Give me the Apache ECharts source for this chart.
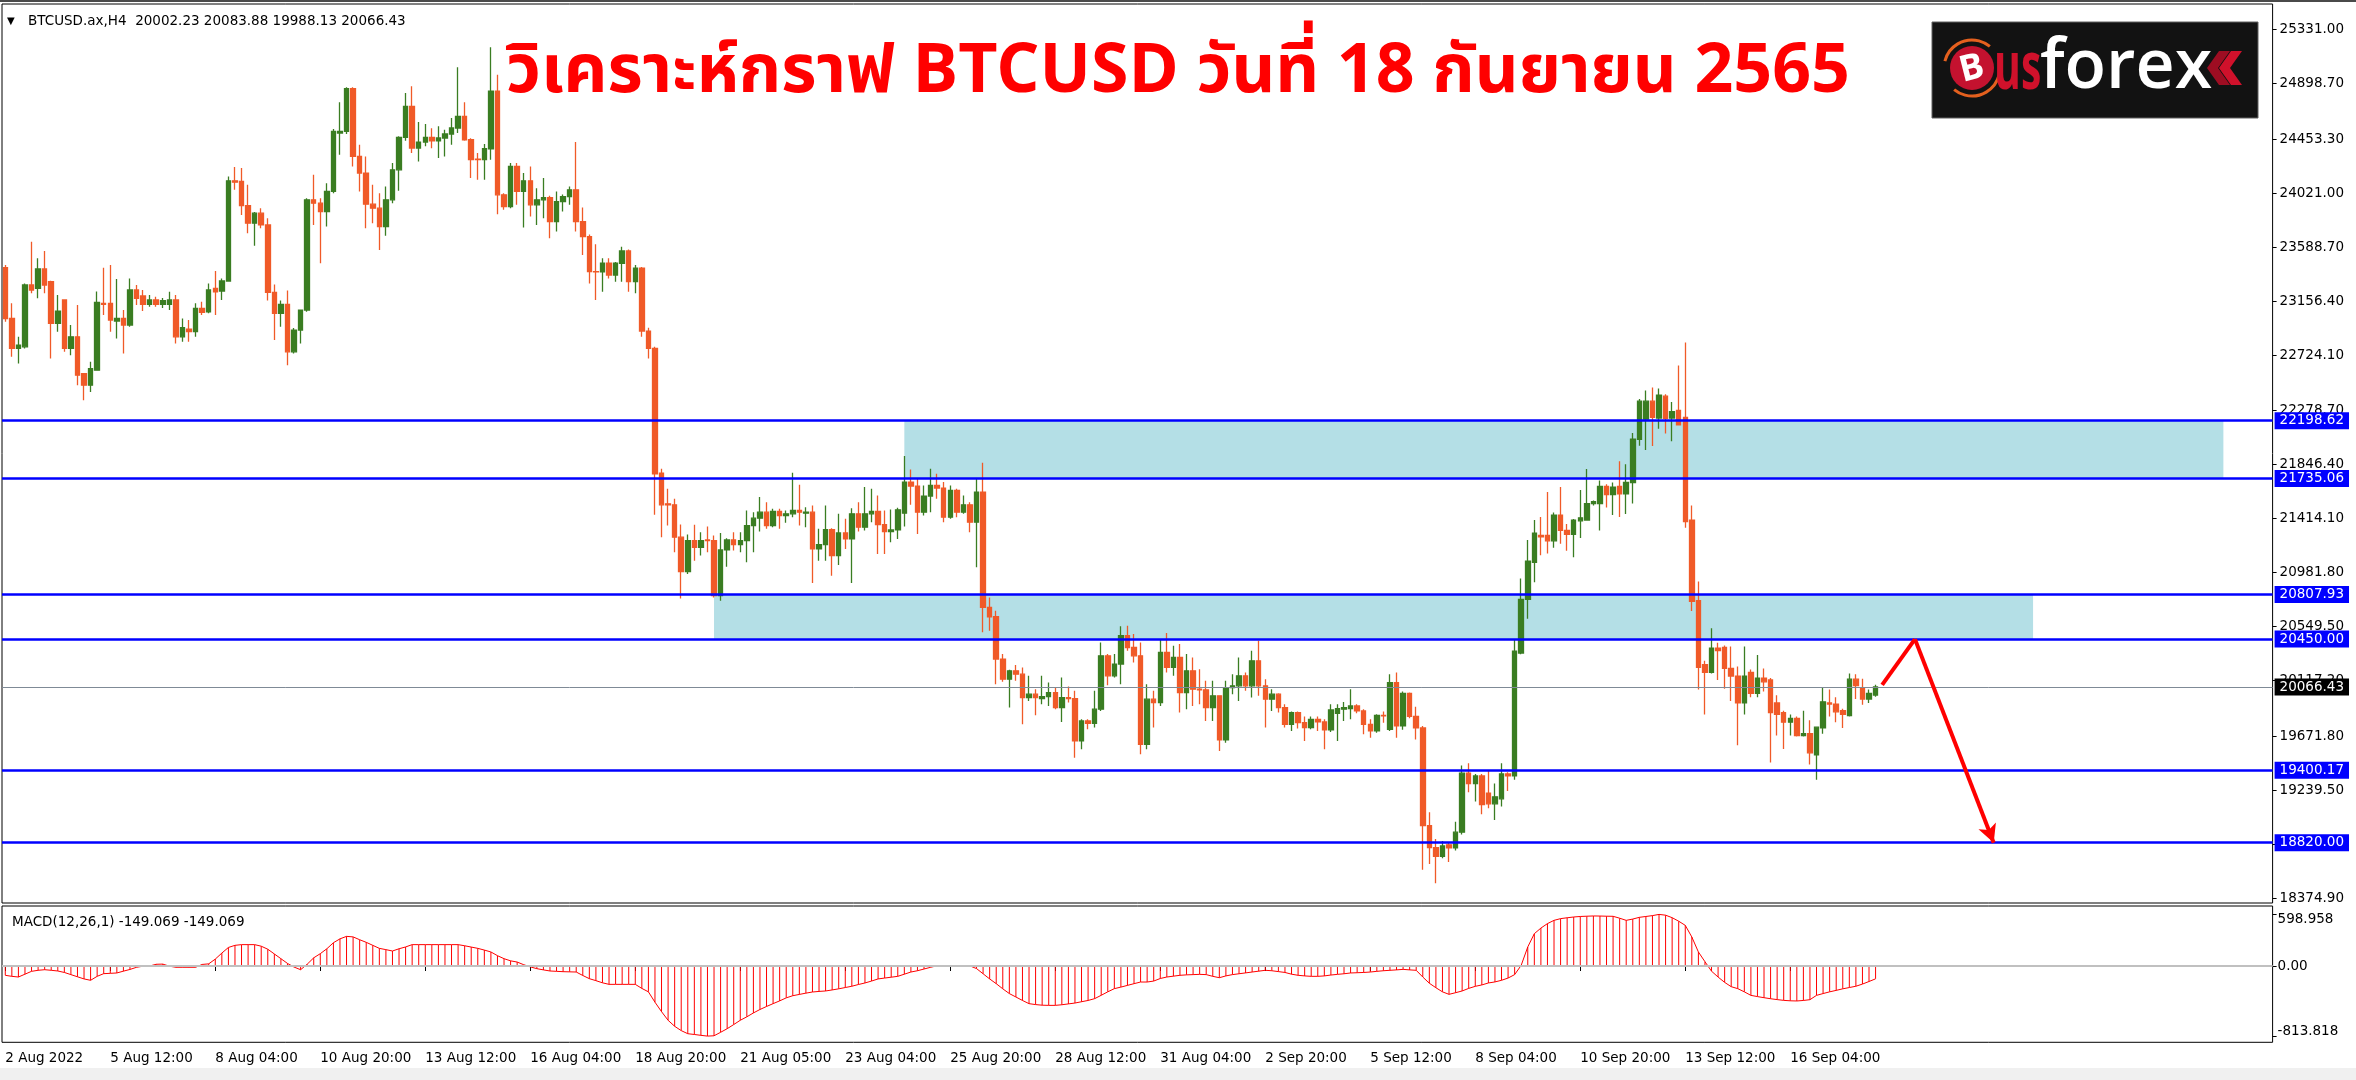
<!DOCTYPE html>
<html><head><meta charset="utf-8">
<script src="https://cdn.jsdelivr.net/npm/echarts@6/dist/echarts.min.js"></script>
<style>html,body{margin:0;padding:0;background:#fff;overflow:hidden}#c{width:2356px;height:1080px}</style>
</head><body><div id="c"></div>
<script>
// ---------------- DATA ----------------
const opens = [23424,23017,22777,22790,23285,23258,23413,23312,22977,23165,22777,22870,22576,22483,22603,23138,23138,22996,23017,22964,23245,23197,23130,23165,23130,23130,23165,22870,22932,22911,23098,23071,23258,23237,23317,24119,24114,23921,23780,23860,23766,23226,23058,23130,22750,22924,23084,23967,23940,23873,24034,24502,24515,24857,24314,24181,23932,23900,23753,23967,24207,24467,24715,24381,24429,24467,24440,24462,24494,24542,24635,24448,24293,24288,24376,24836,24007,23913,24234,24034,24119,23927,23967,23985,23793,23953,23993,24047,23793,23672,23392,23390,23459,23365,23459,23558,23312,23419,22916,22777,21779,21533,21525,21266,20990,21239,21185,21244,21239,20798,21164,21244,21207,21239,21359,21418,21466,21359,21472,21439,21453,21480,21458,21466,21172,21207,21327,21119,21300,21252,21453,21346,21453,21472,21367,21311,21324,21458,21707,21675,21466,21595,21680,21659,21426,21640,21466,21525,21386,21627,20704,20629,20290,20129,20196,20169,19982,20009,19974,19990,20022,19902,19982,19974,19635,19795,19776,19889,20316,20156,20250,20477,20383,20316,19608,19969,19942,20343,20223,20303,20022,20196,20049,20044,19902,19996,19643,20062,20076,20156,20076,20276,20076,19969,20009,19902,19768,19862,19782,19742,19808,19787,19723,19856,19889,19894,19915,19875,19768,19715,19840,19728,20102,19755,20015,19831,19739,18956,18781,18711,18803,18778,18904,19377,19294,19355,19217,19131,19171,19370,19355,20338,20768,21065,21280,21280,21237,21443,21320,21289,21397,21403,21535,21535,21673,21606,21673,21612,21704,22050,22211,22355,22220,22395,22220,22281,22226,21403,20758,20246,20184,20378,20384,20215,20154,19939,20184,20015,20138,20123,19939,19862,19785,19816,19678,19693,19524,19739,19939,19930,19877,19837,20129,20062,19970,20002.23];
const highs = [23445,23138,22870,23298,23632,23499,23558,23320,23205,23170,22964,23124,22580,22670,23232,23424,23445,23333,23084,23338,23285,23245,23205,23190,23180,23231,23205,23017,23004,23138,23151,23298,23397,23338,24154,24229,24221,24087,23870,23900,23820,23290,23160,23240,22940,23084,23980,24167,23980,24100,24534,24748,24868,24868,24408,24314,24087,24020,24074,24261,24475,24822,24876,24590,24574,24540,24555,24528,24622,25028,24748,24460,24341,24413,25189,24969,24020,24261,24261,24181,24234,24060,24141,24000,24034,24010,24074,24429,23905,23690,23611,23499,23499,23470,23592,23570,23445,23430,22943,22790,21814,21653,21573,21367,21287,21365,21306,21351,21279,21300,21258,21306,21306,21480,21466,21587,21546,21493,21493,21480,21782,21685,21506,21520,21333,21520,21338,21453,21413,21498,21546,21667,21653,21600,21480,21488,21501,21915,21808,21739,21680,21814,21774,21707,21680,21653,21600,21546,21734,21862,20784,20677,20330,20204,20242,20223,20156,20049,20156,20102,20062,20142,20070,20036,19808,19808,20036,20423,20330,20330,20552,20557,20490,20423,20089,20036,20450,20498,20397,20410,20330,20303,20209,20116,20116,20000,20116,20169,20303,20183,20356,20437,20129,20049,20017,19929,19870,19870,19830,19830,19830,19808,19929,19929,19947,20049,19929,19889,19808,19849,19870,20169,20183,20031,20022,19908,19754,19064,18849,18834,18824,18987,19438,19457,19370,19370,19395,19294,19457,19385,20445,20936,21243,21403,21428,21627,21464,21667,21372,21412,21643,21811,21560,21719,21689,21704,21873,21850,22100,22373,22441,22465,22456,22410,22349,22640,22824,21520,20912,20276,20537,20421,20399,20390,20230,20390,20206,20323,20215,20138,20000,19877,19847,19831,19877,19801,19745,20062,20046,19985,19893,20175,20169,20132,20046,20083.88];
const lows = [22990,22710,22656,22777,23218,23178,23218,22697,22911,22750,22723,22483,22362,22429,22603,23044,22911,22857,22737,22951,23124,23076,23111,23110,23100,23084,22817,22830,22830,22870,23044,23058,23044,23165,23312,24047,23846,23700,23600,23740,23160,22844,22951,22643,22737,22817,23071,23766,23459,23753,24020,24328,24494,24234,24034,23739,23779,23566,23680,23940,24039,24440,24341,24274,24395,24380,24301,24314,24408,24502,24440,24141,24127,24127,24288,23852,23887,23900,23927,23745,23833,23766,23820,23659,23713,23873,23927,23713,23526,23298,23165,23231,23338,23312,23312,23231,23218,22870,22697,21445,21266,21359,21145,20776,20971,21078,21119,21145,20784,20758,21030,21159,21145,21065,21145,21311,21333,21346,21333,21381,21426,21359,21346,20899,21078,21078,20958,21044,21172,20899,21311,21319,21386,21132,21132,21225,21252,21351,21525,21292,21440,21466,21573,21386,21413,21426,21453,21306,21025,20504,20517,20089,20108,19902,20116,19768,19955,19840,19929,19915,19889,19787,19942,19501,19568,19728,19742,19875,20081,20142,20089,20356,20263,19528,19568,19742,19915,20183,20156,19862,19889,19915,19929,19795,19795,19554,19621,20009,19955,20036,19982,19996,19742,19875,19862,19742,19715,19735,19635,19728,19715,19568,19707,19635,19795,19808,19856,19688,19661,19701,19780,19715,19661,19724,19816,19647,18603,18649,18496,18695,18665,18757,18886,19224,19150,19048,19095,19002,19110,19233,19325,20329,20614,20906,21121,21136,21182,21213,21158,21105,21259,21397,21520,21320,21504,21443,21428,21452,21535,21998,21965,21996,22134,22097,22035,22170,21342,20675,20046,19847,20175,20123,20052,19955,19601,19847,19985,19985,20031,19463,19678,19570,19678,19670,19670,19447,19325,19693,19831,19785,19739,19831,19970,19924,19939,19988.13];
const closes = [23017,22777,22804,23285,23245,23413,23285,22977,23076,22777,22870,22563,22483,22616,23146,23130,23004,23017,22964,23245,23178,23130,23165,23130,23160,23165,22870,22943,22911,23098,23066,23245,23231,23317,24119,24108,23921,23780,23860,23766,23226,23058,23130,22750,22924,23084,23967,23940,23873,24034,24515,24515,24857,24314,24181,23932,23900,23753,23967,24207,24467,24715,24381,24429,24467,24440,24462,24494,24542,24635,24448,24288,24288,24376,24836,24007,23913,24234,24034,24119,23927,23967,23985,23793,23953,23993,24047,23793,23672,23392,23390,23459,23365,23459,23558,23312,23419,22916,22777,21774,21525,21525,21266,20990,21239,21185,21239,21239,20798,21164,21244,21207,21239,21359,21418,21466,21359,21472,21439,21453,21480,21466,21466,21172,21207,21327,21119,21300,21252,21453,21346,21453,21472,21367,21311,21324,21485,21707,21675,21466,21595,21680,21659,21426,21640,21466,21525,21386,21627,20704,20629,20290,20129,20196,20169,19982,20009,19982,19990,20022,19902,19982,19974,19635,19795,19776,19889,20316,20156,20250,20477,20383,20316,19608,19969,19942,20343,20223,20303,20022,20196,20049,20044,19902,19996,19643,20062,20076,20156,20076,20276,20076,19969,20009,19902,19768,19862,19782,19742,19808,19787,19723,19883,19894,19902,19915,19875,19768,19715,19840,19835,20102,19755,20015,19831,19739,18956,18781,18711,18794,18778,18904,19377,19294,19355,19125,19131,19187,19370,19355,20353,20768,21075,21299,21268,21237,21443,21320,21289,21403,21421,21535,21551,21673,21606,21667,21612,21704,22050,22355,22355,22226,22404,22217,22272,22165,21391,20752,20224,20184,20378,20359,20215,20154,19939,20154,20015,20138,20108,19862,19847,19785,19816,19678,19693,19540,19745,19948,19930,19868,19847,20129,20077,19970,20015,20066.43];
const macd = [-108,-120,-128,-95,-62,-50,-43,-50,-58,-75,
-100,-125,-150,-166,-120,-89,-85,-81,-60,-40,
-15,-2,0,20,22,-2,-15,-15,-15,-15,
18,25,80,150,215,240,248,248,248,230,
195,140,85,30,-12,-43,20,95,143,200,
270,315,344,338,305,275,240,205,190,174,
200,221,248,248,248,248,248,248,248,248,
235,220,205,185,163,120,85,60,46,15,
-10,-31,-45,-58,-62,-66,-68,-70,-110,-147,
-170,-195,-213,-213,-213,-213,-213,-260,-300,-420,
-530,-630,-700,-750,-786,-795,-805,-813.818,-810,-770,
-728,-680,-630,-590,-545,-505,-470,-437,-405,-370,
-345,-330,-315,-302,-295,-290,-278,-265,-250,-235,
-215,-197,-175,-150,-140,-130,-120,-95,-70,-55,
-35,-15,3,4,2,3,2,1,-30,-90,
-150,-205,-265,-320,-360,-400,-437,-448,-455,-457,
-457,-450,-440,-430,-415,-400,-379,-340,-300,-263,
-245,-225,-205,-186,-186,-175,-145,-128,-118,-108,
-103,-100,-97,-100,-120,-136,-115,-100,-90,-80,
-70,-60,-50,-55,-65,-75,-95,-108,-115,-120,
-120,-115,-105,-97,-90,-81,-78,-75,-70,-62,
-55,-50,-45,-39,-45,-50,-128,-200,-252,-300,
-329,-310,-290,-260,-236,-220,-197,-185,-166,-140,
-100,8,221,375,440,492,530,550,560,569,
575,578,581,580,578,577,555,530,545,565,
575,585,598.958,590,561,520,472,337,163,50,
-60,-128,-190,-240,-263,-300,-341,-355,-368,-380,
-390,-399,-404,-406,-400,-391,-341,-320,-300,-283,
-265,-250,-235,-210,-180,-149.069];

const xTickLabels = ['2 Aug 2022','5 Aug 12:00','8 Aug 04:00','10 Aug 20:00','13 Aug 12:00','16 Aug 04:00','18 Aug 20:00','21 Aug 05:00','23 Aug 04:00','25 Aug 20:00','28 Aug 12:00','31 Aug 04:00','2 Sep 20:00','5 Sep 12:00','8 Sep 04:00','10 Sep 20:00','13 Sep 12:00','16 Sep 04:00'];
const barsPerLabel = 16;
const totalSlots = 346;            // bars + empty chart-shift space on the right
const priceTicks = [25331.00,24898.70,24453.30,24021.00,23588.70,23156.40,22724.10,22278.70,21846.40,21414.10,20981.80,20549.50,20117.20,19671.80,19239.50,18807.20,18374.90];
const levels = [22198.62,21735.06,20807.93,20450.00,19400.17,18820.00];
const lastPrice = 20066.43;
const zoneStart = [137,108];
const zoneEnd = [338,309];
const zoneHigh = [22198.62,20807.93];
const zoneLow = [21735.06,20450.00];
const arrowIdx = [286,291,303];
const arrowVal = [20083,20450,18820];
const macdTicks = [598.958,0,-813.818];
const macdTickText = ['598.958','0.00','-813.818'];
const headerSymbol = 'BTCUSD.ax,H4';
const headerOHLC = ['20002.23','20083.88','19988.13','20066.43'];
const macdName = 'MACD(12,26,1)';
const macdShown = ['-149.069','-149.069'];
const titleText = 'วิเคราะห์กราฟ BTCUSD วันที่ 18 กันยายน 2565';

// ---------------- CHART ----------------
const FONT = "'DejaVu Sans', sans-serif";
const LOGOFONT = "'Open Sans','DejaVu Sans',sans-serif";
const BULL = '#3a7d22', BEAR = '#f05a28';
const cats = Array.from({length: totalSlots}, (_, i) => String(i));
const candleData = opens.map((o, i) => [o, closes[i], lows[i], highs[i]]);
const labelEvery = (idx) => idx % barsPerLabel === 0 && idx / barsPerLabel < xTickLabels.length;

const chart = echarts.init(document.getElementById('c'), null, {renderer: 'canvas'});
const gridCommon = {left: 2, width: 2270.6, show: true, borderColor: '#000', borderWidth: 1, backgroundColor: '#fff', containLabel: false, outerBoundsMode: 'none'};

const option = {
  animation: false,
  backgroundColor: '#ffffff',
  textStyle: {fontFamily: FONT},
  title: {
    text: titleText, left: 'center', top: 39,
    textStyle: {color: '#ff0000', fontSize: 68, fontWeight: 'bold', fontFamily: "'Noto Sans Thai','Noto Sans Thai UI','Noto Sans','DejaVu Sans',sans-serif"}
  },
  grid: [
    Object.assign({top: 4, height: 899}, gridCommon),
    Object.assign({top: 906, height: 136.3}, gridCommon)
  ],
  xAxis: [
    {type: 'category', gridIndex: 0, data: cats, boundaryGap: true,
     axisLine: {show: false}, axisTick: {show: false}, axisLabel: {show: false}, splitLine: {show: false}},
    {type: 'category', gridIndex: 1, data: cats, boundaryGap: true,
     axisLine: {show: false},
     axisTick: {show: true, alignWithLabel: true, interval: labelEvery, length: 5, lineStyle: {color: '#000', width: 1}},
     axisLabel: {interval: labelEvery, formatter: (v, i) => xTickLabels[i / barsPerLabel] || '', align: 'left',
                 color: '#000', fontSize: 13.5, fontFamily: FONT, margin: 9},
     splitLine: {show: false}}
  ],
  yAxis: [
    {type: 'value', gridIndex: 0, position: 'right', min: 18337.3, max: 25534.7,
     splitLine: {show: false}, axisLine: {show: false},
     axisTick: {show: true, customValues: priceTicks, length: 4, lineStyle: {color: '#000'}},
     axisLabel: {customValues: priceTicks, formatter: v => v.toFixed(2), color: '#000', fontSize: 13.5, fontFamily: FONT, margin: 7}},
    {type: 'value', gridIndex: 1, position: 'right', min: -885.8, max: 696.6,
     splitLine: {show: false}, axisLine: {show: false},
     axisTick: {show: true, customValues: macdTicks, length: 4, lineStyle: {color: '#000'}},
     axisLabel: {customValues: macdTicks, color: '#000', fontSize: 13.5, fontFamily: FONT, margin: 5,
       formatter: v => {
         let k = 0; macdTicks.forEach((t, j) => { if (Math.abs(t - v) < Math.abs(macdTicks[k] - v)) k = j; });
         return k === 0 ? '{dn|' + macdTickText[k] + '}' : (k === 2 ? '{up|' + macdTickText[k] + '}' : macdTickText[k]);
       },
       rich: {dn: {padding: [11, 0, 0, 0], fontSize: 13.5, color: '#000'}, up: {padding: [0, 0, 10, 0], fontSize: 13.5, color: '#000'}}}}
  ],
  series: [
    { // background zones + last price line
      type: 'line', xAxisIndex: 0, yAxisIndex: 0, data: [], z: 1, silent: true,
      markArea: {silent: true, itemStyle: {color: '#b4dfe6', opacity: 1},
        data: zoneStart.map((s, i) => [{xAxis: s, yAxis: zoneHigh[i]}, {xAxis: zoneEnd[i], yAxis: zoneLow[i]}])},
      markLine: {silent: true, symbol: 'none', animation: false,
        lineStyle: {color: '#7f8a96', width: 1, type: 'solid'},
        label: {show: true, position: 'end', distance: 2, formatter: p => p.value.toFixed(2), color: '#fff',
                backgroundColor: '#000', padding: [2, 5, 1, 5], fontSize: 13.5, fontFamily: FONT},
        data: [{yAxis: lastPrice}]}
    },
    {
      type: 'candlestick', xAxisIndex: 0, yAxisIndex: 0, data: candleData, z: 3, barWidth: 5,
      itemStyle: {color: BULL, color0: BEAR, borderColor: BULL, borderColor0: BEAR, borderColorDoji: BULL, borderWidth: 1.3}
    },
    { // support / resistance lines
      type: 'line', xAxisIndex: 0, yAxisIndex: 0, data: [], z: 5, silent: true,
      markLine: {silent: true, symbol: 'none', animation: false,
        lineStyle: {color: '#0000ff', width: 2.7, type: 'solid'},
        label: {show: true, position: 'end', distance: 2, formatter: p => p.value.toFixed(2), color: '#fff',
                backgroundColor: '#0000ff', padding: [2, 5, 1, 5], fontSize: 13.5, fontFamily: FONT},
        data: levels.map(v => ({yAxis: v}))}
    },
    { // projected path arrow
      type: 'line', xAxisIndex: 0, yAxisIndex: 0, data: [], z: 6, silent: true,
      markLine: {silent: true, animation: false, symbol: 'none', symbolSize: [14, 18],
        lineStyle: {color: '#ff0000', width: 4, type: 'solid'}, label: {show: false},
        data: [
          [{coord: [arrowIdx[0], arrowVal[0]], symbol: 'none'}, {coord: [arrowIdx[1], arrowVal[1]], symbol: 'none'}],
          [{coord: [arrowIdx[1], arrowVal[1]], symbol: 'none'}, {coord: [arrowIdx[2], arrowVal[2]], symbol: 'arrow'}]
        ]}
    },
    {
      type: 'bar', xAxisIndex: 1, yAxisIndex: 1, data: macd, barWidth: 1, z: 2,
      itemStyle: {color: '#ff0000'},
      markLine: {silent: true, symbol: 'none', animation: false, label: {show: false},
        lineStyle: {color: '#c0c0c0', width: 2, type: 'solid'}, data: [{yAxis: 0}]}
    },
    {
      type: 'line', xAxisIndex: 1, yAxisIndex: 1, data: macd, symbol: 'none', z: 3,
      lineStyle: {color: '#ff0000', width: 1}
    }
  ],
  graphic: [
    {type: 'rect', shape: {x: 0, y: 0, width: 2356, height: 2}, style: {fill: '#4a4a4a'}, z: 50},
    {type: 'rect', shape: {x: 0, y: 1068, width: 2356, height: 12}, style: {fill: '#f0f0f0'}, z: 0},
    {type: 'text', x: 7, y: 21, style: {text: '▼', fill: '#000', fontSize: 10, fontFamily: FONT, verticalAlign: 'middle'}, z: 50},
    {type: 'text', x: 28, y: 21, style: {text: headerSymbol + '  ' + headerOHLC.join(' '), fill: '#000', fontSize: 13.5, fontFamily: FONT, verticalAlign: 'middle'}, z: 50},
    {type: 'text', x: 12, y: 922, style: {text: macdName + ' ' + macdShown.join(' '), fill: '#000', fontSize: 13.5, fontFamily: FONT, verticalAlign: 'middle'}, z: 50},
    // logo
    {type: 'group', z: 60, children: [
      {type: 'rect', shape: {x: 1932, y: 22, width: 326, height: 96}, style: {fill: '#121212', stroke: '#606060', lineWidth: 1}},
      {type: 'arc', shape: {cx: 1972, cy: 68, r: 28, startAngle: Math.PI * 1.08, endAngle: Math.PI * 1.72}, style: {stroke: '#e4601e', lineWidth: 3, fill: null}},
      {type: 'arc', shape: {cx: 1972, cy: 68, r: 28, startAngle: Math.PI * 0.08, endAngle: Math.PI * 0.72}, style: {stroke: '#e4601e', lineWidth: 3, fill: null}},
      {type: 'circle', shape: {cx: 1972, cy: 68, r: 22}, style: {fill: '#c4122f'}},
      {type: 'text', x: 1972, y: 69, rotation: 0.25, style: {text: 'B', fill: '#fff', fontSize: 36, fontWeight: 'bold', fontFamily: LOGOFONT, align: 'center', verticalAlign: 'middle'}},
      {type: 'text', x: 1994, y: 70, scaleX: 0.62, style: {text: 'us', fill: '#d0112b', fontSize: 66, fontWeight: 'bold', fontFamily: LOGOFONT, align: 'left', verticalAlign: 'middle'}},
      {type: 'text', x: 2040, y: 69, style: {text: 'forex', fill: '#ffffff', fontSize: 68, fontWeight: 600, fontFamily: LOGOFONT, align: 'left', verticalAlign: 'middle'}},
      {type: 'polygon', shape: {points: [[2219, 51], [2230, 51], [2218, 68], [2230, 85], [2219, 85], [2207, 68]]}, style: {fill: '#9e0d22'}},
      {type: 'polygon', shape: {points: [[2231, 51], [2242, 51], [2230, 68], [2242, 85], [2231, 85], [2219, 68]]}, style: {fill: '#d0112b'}}
    ]}
  ]
};
chart.setOption(option);
</script>
</body></html>
